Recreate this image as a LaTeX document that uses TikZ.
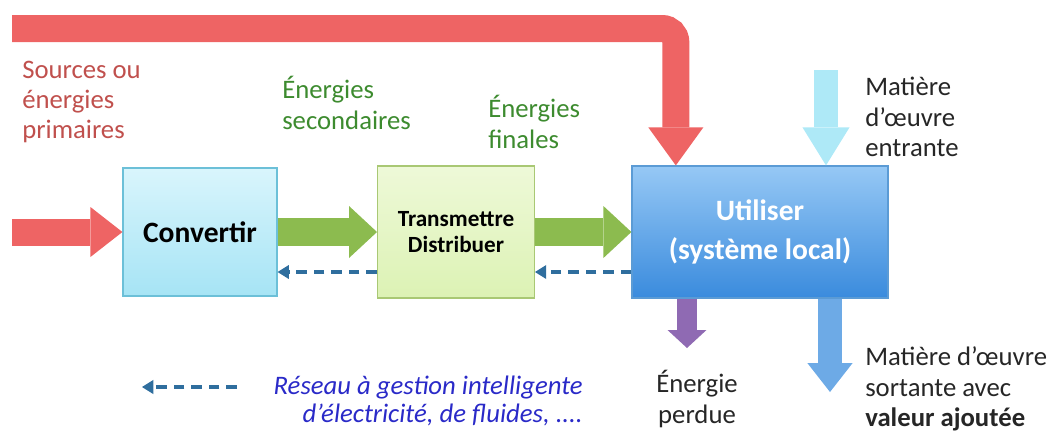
\documentclass[tikz,border=0pt]{standalone}
\usepackage{fontspec}
\setmainfont{Carlito}
\usetikzlibrary{arrows.meta,positioning,calc}
\definecolor{flowred}{HTML}{EE6464}
\definecolor{srctext}{HTML}{C0504D}
\definecolor{flowgreen}{HTML}{8CBB4F}
\definecolor{greentext}{HTML}{3D8B2F}
\definecolor{netblue}{HTML}{2F6E9E}
\definecolor{legendblue}{HTML}{2A2AC8}
\definecolor{matcyan}{HTML}{AEE9F7}
\definecolor{lostviolet}{HTML}{8F6AB3}
\definecolor{outblue}{HTML}{6DAAE6}
\definecolor{convtop}{HTML}{D9F5FC}
\definecolor{convbot}{HTML}{A6E4F5}
\definecolor{convline}{HTML}{6CC0D8}
\definecolor{transtop}{HTML}{EEF9D8}
\definecolor{transbot}{HTML}{DCF2B4}
\definecolor{transline}{HTML}{A9C874}
\definecolor{utiltop}{HTML}{96C8F5}
\definecolor{utilbot}{HTML}{3A8BDD}
\definecolor{utilline}{HTML}{5B9BD5}

\tikzset{
  blockbox/.style={draw, line width=0.8pt, inner sep=2pt, align=center},
  convbox/.style={blockbox, draw=convline, top color=convtop, bottom color=convbot,
    minimum width=3.85cm, minimum height=3.2cm, font=\fontsize{21}{25}\selectfont\bfseries},
  transbox/.style={blockbox, draw=transline, top color=transtop, bottom color=transbot,
    minimum width=3.92cm, minimum height=3.3cm, font=\fontsize{16.5}{19}\selectfont\bfseries},
  utilbox/.style={blockbox, draw=utilline, top color=utiltop, bottom color=utilbot,
    minimum width=6.4cm, minimum height=3.3cm, text=white, font=\fontsize{21}{28}\selectfont\bfseries},
  flowarrow/.style n args={4}{draw=#1, line width=#2,
    -{Triangle[width=#3, length=#4, line width=0pt]}},
  backdash/.style={draw=netblue, line width=2.3pt, dash pattern=on 7.5pt off 5pt,
    -{Triangle[width=10pt, length=8pt, line width=0pt]}},
  txt/.style={inner sep=0pt, font=\fontsize{19}{21.5}\selectfont},
  srclabel/.style={txt, text=srctext, align=left},
  greenlabel/.style={txt, text=greentext, align=left},
  plainlabel/.style={txt, text=black!85, align=left},
  legendlabel/.style={txt, text=legendblue, align=right, font=\fontsize{19}{20}\selectfont\itshape}
}

\begin{document}
\begin{tikzpicture}[x=0.025cm, y=-0.025cm]
  \useasboundingbox (0,0) rectangle (1055,437);

  % the three stages
  \node[convbox] (conv) at (200,232) {Convertir};
  \node[transbox] (trans) at (456,232) {Transmettre\\Distribuer};
  \node[utilbox] (util) at (760,232) {Utiliser\\(système local)};

  % primary sources
  \coordinate (srcin) at (12,232);
  \coordinate (srctop) at (12,28.5);
  \draw[flowarrow={flowred}{0.675cm}{1.25cm}{0.8cm}] (srcin) -- (conv.west);
  \draw[flowarrow={flowred}{0.675cm}{1.375cm}{0.95cm}, rounded corners=0.34cm]
    (srctop) -| ([xshift=1.11cm]util.north west);

  % energy flows and the network going back
  \foreach \a/\b in {conv/trans, trans/util}{
    \draw[flowarrow={flowgreen}{0.7cm}{1.3cm}{0.7cm}] (\a.east) -- (\b.west);
    \draw[backdash] ([yshift=-1cm]\b.west) -- ([yshift=-1cm]\a.east);
  }

  % matter in and out, lost energy
  \coordinate (matin) at (826,70);
  \coordinate (perte) at (687,348);
  \coordinate (sortie) at (830,392);
  \draw[flowarrow={matcyan}{0.62cm}{1.175cm}{0.95cm}] (matin) -- (matin |- util.north);
  \draw[flowarrow={lostviolet}{0.48cm}{0.975cm}{0.45cm}] (perte |- util.south) -- (perte);
  \draw[flowarrow={outblue}{0.6cm}{1.125cm}{0.72cm}] (sortie |- util.south) -- (sortie);

  % labels
  \node[srclabel, anchor=west] (srclab) at (22,102) {Sources ou\\énergies\\primaires};
  \node[greenlabel, anchor=west] (seclab) at (282,103) {Énergies\\secondaires};
  \node[greenlabel, anchor=west] (finlab) at (488,122) {Énergies\\finales};
  \node[plainlabel, anchor=west] (inlab) at (865,117) {Matière\\d’œuvre\\entrante};
  \node[plainlabel, align=center] (lostlab) at (697,399) {Énergie\\perdue};
  \node[plainlabel, anchor=west] (outlab) at (865,389) {Matière d’œuvre\\sortante avec\\\textbf{valeur ajoutée}};

  % legend
  \node[legendlabel, anchor=east] (leglab) at (583,401) {Réseau à gestion intelligente\\d’électricité, de fluides, ....};
  \coordinate (legR) at (237,387);
  \coordinate (legL) at (142,387);
  \draw[backdash] (legR) -- (legL);
\end{tikzpicture}
\end{document}
